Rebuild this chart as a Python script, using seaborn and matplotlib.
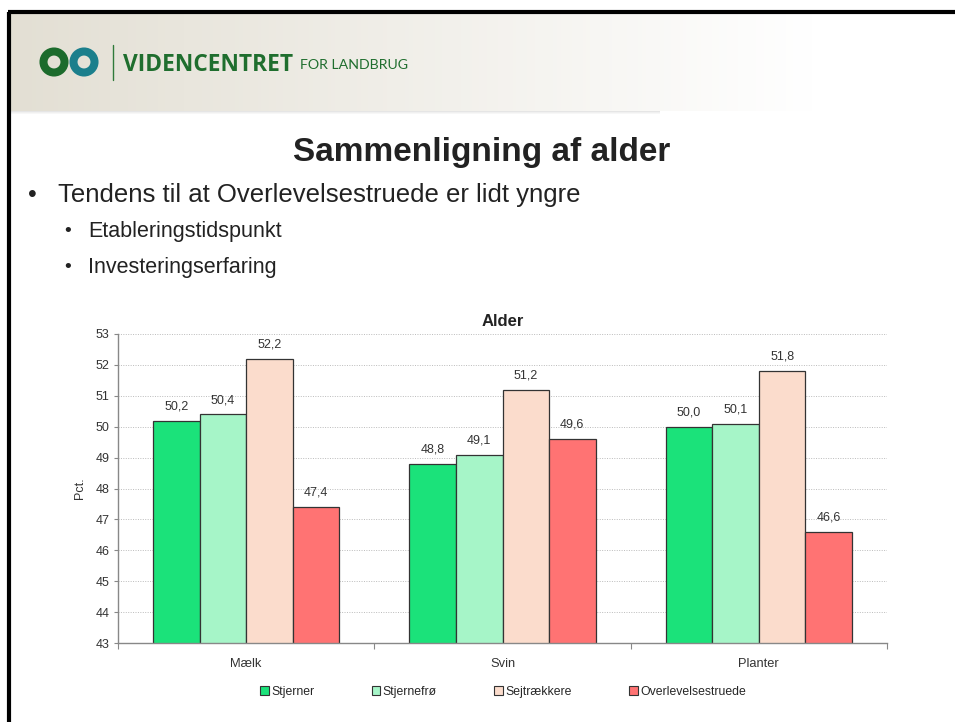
import numpy as np
import pandas as pd
import matplotlib
matplotlib.use("Agg")
import matplotlib.pyplot as plt
import matplotlib.patches as mpatches
import seaborn as sns

# data
categories = ["Mælk", "Svin", "Planter"]
groups = ["Stjerner", "Stjernefrø", "Sejtrækkere", "Overlevelsestruede"]
stjerner = [50.2, 48.8, 50.0]
stjernefro = [50.4, 49.1, 50.1]
sejtraekkere = [52.2, 51.2, 51.8]
overlevelse = [47.4, 49.6, 46.6]
colors = ["#1be27a", "#a6f5c8", "#fbdccc", "#ff7373"]

df = pd.DataFrame({
    "kategori": categories * 4,
    "gruppe": [g for g in groups for _ in categories],
    "alder": stjerner + stjernefro + sejtraekkere + overlevelse,
})

sns.set_style("white")
plt.rcParams["font.family"] = ["Liberation Sans", "DejaVu Sans"]

W, H = 955, 722
fig = plt.figure(figsize=(W / 100, H / 100), dpi=100)

# slide background / header band
bg = fig.add_axes([0, 0, 1, 1])
bg.set_xlim(0, W)
bg.set_ylim(H, 0)
bg.axis("off")
grad = np.linspace(0, 1, 256)
band = np.ones((2, 256, 3))
left_col = np.array([0.89, 0.875, 0.83])
for i, t in enumerate(grad):
    f = min(1.0, t / 0.85)
    band[:, i, :] = left_col * (1 - f) + np.array([1, 1, 1]) * f
bg.imshow(band, extent=[10, W, 111, 13], aspect="auto", zorder=0)
for k, a in enumerate([0.10, 0.06, 0.03]):
    bg.add_patch(mpatches.Rectangle((10, 111 + k), 650, 1.2, color="black", alpha=a, lw=0))
bg.plot([9, 9], [12, H], color="black", lw=3, solid_capstyle="butt")
bg.plot([8, W], [12, 12], color="black", lw=3, solid_capstyle="butt")

# logo
bg.add_patch(mpatches.Circle((54, 62), 10.5, fill=False, ec="#1c6b2c", lw=5.8))
bg.add_patch(mpatches.Circle((84, 62), 10.5, fill=False, ec="#1b7f8c", lw=5.8))
bg.plot([113, 113], [45, 80], color="#2f7a3a", lw=1)
t1 = bg.text(123, 65, "VIDENCENTRET", color="#1f6e2e", fontsize=15, fontweight="bold",
             va="center", ha="left", family=["Open Sans", "DejaVu Sans"])
t2 = bg.text(300, 65, "FOR LANDBRUG", color="#1f6e2e", fontsize=13,
             va="center", ha="left", family=["Lato", "DejaVu Sans"])
# fit header words to the widths seen on the slide
r = fig.canvas.get_renderer()
for t, target in [(t1, 170), (t2, 108)]:
    w = t.get_window_extent(renderer=r).width
    t.set_fontsize(t.get_fontsize() * target / w)

# slide text
bg.text(482, 152, "Sammenligning af alder", fontsize=24, fontweight="bold",
        ha="center", va="center", color="#222222")
bg.text(28, 195, "•", fontsize=18, va="center", color="#222222")
bg.text(58, 195, "Tendens til at Overlevelsestruede er lidt yngre", fontsize=18.5,
        va="center", color="#222222")
bg.text(64, 232, "•", fontsize=14, va="center", color="#222222")
bg.text(88, 232, "Etableringstidspunkt", fontsize=15.5, va="center", color="#222222")
bg.text(64, 268, "•", fontsize=14, va="center", color="#222222")
bg.text(88, 268, "Investeringserfaring", fontsize=15.5, va="center", color="#222222")

# chart
ax = fig.add_axes([118 / W, (H - 643) / H, 769 / W, 309 / H])
sns.barplot(data=df, x="kategori", y="alder", hue="gruppe", palette=colors, saturation=1,
            width=0.726, edgecolor="#333333", linewidth=0.9, legend=False, ax=ax)
ax.set_ylim(43, 53)
ax.set_xlim(-0.5, 2.5)
ax.set_yticks(range(43, 54))
ax.tick_params(axis="y", labelsize=9, length=3, color="#888888", direction="out", left=True,
               pad=3, labelcolor="#333333")
ax.set_xticks([-0.5, 0.5, 1.5, 2.5])
ax.set_xticklabels([])
ax.tick_params(axis="x", length=4, color="#888888", direction="out", bottom=True)
ax.set_xticks([0, 1, 2], minor=True)
ax.set_xticklabels(categories, minor=True)
ax.tick_params(axis="x", which="minor", length=0, labelsize=9.3, pad=11, labelcolor="#333333")
ax.yaxis.grid(True, linestyle=(0, (1, 1.5)), color="#bbbbbb", lw=0.7)
ax.set_axisbelow(True)
for s in ["top", "right"]:
    ax.spines[s].set_visible(False)
for s in ["left", "bottom"]:
    ax.spines[s].set_color("#888888")
    ax.spines[s].set_linewidth(1)
ax.set_xlabel("")
ax.set_ylabel("Pct.", fontsize=9, color="#333333", labelpad=7)
ax.set_title("Alder", fontsize=12, fontweight="bold", pad=6, color="#222222")

for cont in ax.containers:
    ax.bar_label(cont, labels=[f"{v:.1f}".replace(".", ",") for v in cont.datavalues],
                 padding=6, fontsize=9, color="#333333")

handles = [mpatches.Patch(facecolor=c, edgecolor="#333333", lw=0.8) for c in colors]
fig.legend(handles, groups, loc="center", bbox_to_anchor=(503 / W, 1 - 692 / H), ncol=4,
           frameon=False, fontsize=8.8, handlelength=0.7, handleheight=0.7, handletextpad=0.2,
           columnspacing=4.7)

fig.savefig("out.png", dpi=100)
